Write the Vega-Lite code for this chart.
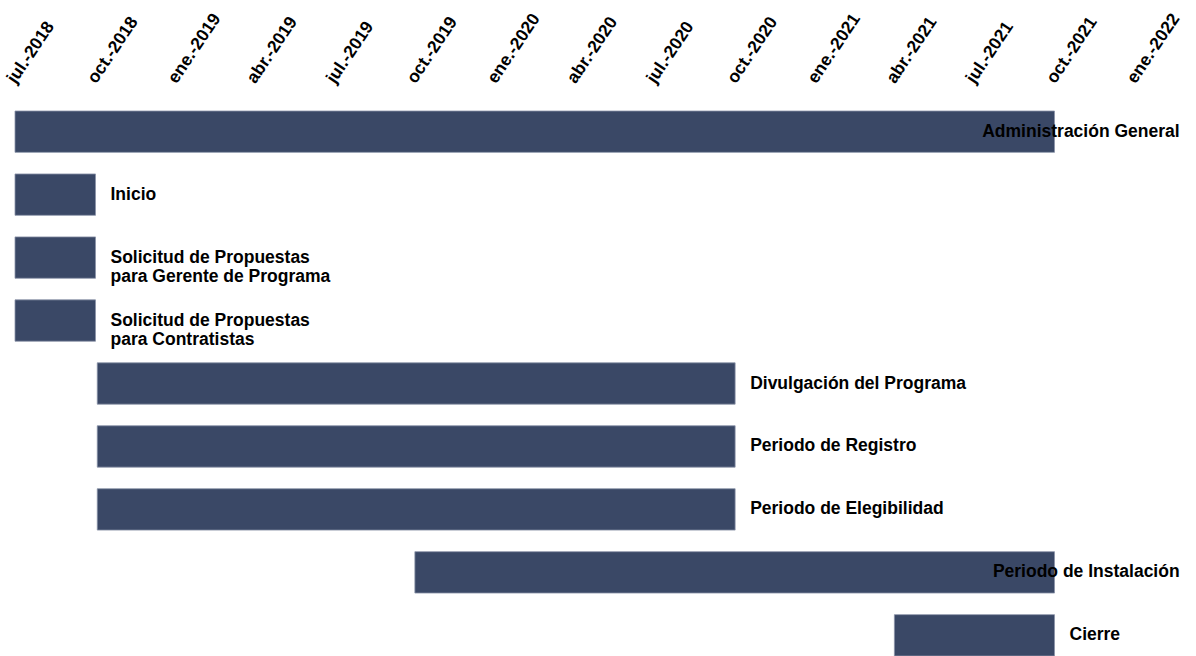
{
  "$schema": "https://vega.github.io/schema/vega-lite/v6.json",
  "width": 1120,
  "height": 545,
  "autosize": "none",
  "padding": {"left": 15, "top": 111, "right": 61, "bottom": 0},
  "background": "white",
  "config": {"view": {"stroke": null}, "font": "Liberation Sans"},
  "data": {
    "values": [
      {"task": "Administración General", "label": "Administración General", "start": "2018-07-01", "end": "2021-10-01"},
      {"task": "Inicio", "label": "Inicio", "start": "2018-07-01", "end": "2018-10-01"},
      {"task": "Solicitud de Propuestas para Gerente de Programa", "label": "Solicitud de Propuestas\npara Gerente de Programa", "start": "2018-07-01", "end": "2018-10-01"},
      {"task": "Solicitud de Propuestas para Contratistas", "label": "Solicitud de Propuestas\npara Contratistas", "start": "2018-07-01", "end": "2018-10-01"},
      {"task": "Divulgación del Programa", "label": "Divulgación del Programa", "start": "2018-10-03", "end": "2020-10-01"},
      {"task": "Periodo de Registro", "label": "Periodo de Registro", "start": "2018-10-03", "end": "2020-10-01"},
      {"task": "Periodo de Elegibilidad", "label": "Periodo de Elegibilidad", "start": "2018-10-03", "end": "2020-10-01"},
      {"task": "Periodo de Instalación", "label": "Periodo de Instalación", "start": "2019-10-01", "end": "2021-10-01"},
      {"task": "Cierre", "label": "Cierre", "start": "2021-04-01", "end": "2021-10-01"}
    ],
    "format": {"parse": {"start": "date:'%Y-%m-%d'", "end": "date:'%Y-%m-%d'"}}
  },
  "encoding": {
    "y": {
      "field": "task",
      "type": "nominal",
      "sort": null,
      "scale": {"paddingInner": 0.343, "paddingOuter": 0},
      "axis": null
    }
  },
  "layer": [
    {
      "mark": {"type": "bar", "color": "#3a4866", "stroke": "#8a93a8", "strokeWidth": 0.8},
      "encoding": {
        "x": {
          "field": "start",
          "type": "temporal",
          "scale": {"domain": [{"year": 2018, "month": 7, "date": 1}, {"year": 2022, "month": 1, "date": 1}]},
          "axis": {
            "orient": "top",
            "title": null,
            "grid": false,
            "ticks": false,
            "domain": false,
            "tickCount": {"interval": "month", "step": 3},
            "labelAngle": -56,
            "labelAlign": "left",
            "labelBaseline": "alphabetic",
            "labelPadding": 27,
            "labelFont": "Liberation Sans",
            "labelFontWeight": "bold",
            "labelFontSize": 17.5,
            "labelColor": "#000000",
            "labelOverlap": false,
            "labelFlush": false,
            "labelBound": false,
            "labelExpr": "['ene.','feb.','mar.','abr.','may.','jun.','jul.','ago.','sep.','oct.','nov.','dic.'][month(datum.value)] + '-' + year(datum.value)"
          }
        },
        "x2": {"field": "end"}
      }
    },
    {
      "transform": [{"filter": "!(time(datum.end) >= time(datetime(2021, 8, 1)) && length(datum.label) > 10)"}],
      "mark": {"type": "text", "align": "left", "baseline": "middle", "dx": 15, "font": "Liberation Sans", "fontWeight": "bold", "fontSize": 17.5, "lineBreak": "\n", "lineHeight": 19, "color": "#000000"},
      "encoding": {
        "x": {"field": "end", "type": "temporal"},
        "text": {"field": "label"}
      }
    },
    {
      "transform": [{"filter": "time(datum.end) >= time(datetime(2021, 8, 1)) && length(datum.label) > 10"}],
      "mark": {"type": "text", "align": "right", "baseline": "middle", "font": "Liberation Sans", "fontWeight": "bold", "fontSize": 17.5, "color": "#000000"},
      "encoding": {
        "x": {"datum": {"year": 2022, "month": 2, "date": 21}, "type": "temporal"},
        "text": {"field": "label"}
      }
    }
  ]
}
